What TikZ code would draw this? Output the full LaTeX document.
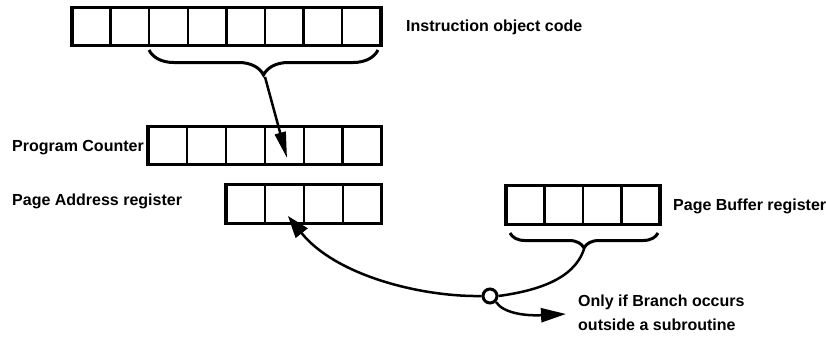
\documentclass[tikz,border=0pt]{standalone}
\usepackage{fontspec}
\setmainfont{Liberation Sans}
\usetikzlibrary{arrows.meta,decorations.pathreplacing,calc}
\begin{document}
\begin{tikzpicture}[x=1pt,y=-1pt,
  reg/.style={draw,line width=3.4pt,inner sep=0pt,outer sep=0pt,minimum height=38.5pt},
  divider/.style={line width=2.3pt},
  lbl/.style={font=\fontsize{16}{18}\selectfont\bfseries,anchor=base west,inner sep=0pt},
  brc/.style={decorate,decoration={brace,amplitude=#1},line width=3pt},
  conn/.style={line width=2.5pt},
  junction/.style={circle,draw,line width=3pt,minimum size=14pt,inner sep=0pt,fill=white}
]
\useasboundingbox (0,0) rectangle (826,337);

% registers
\node[reg,minimum width=308.8pt] (top) at (226.4,26.5) {};
\foreach \i in {1,...,7}
  \draw[divider] ($(top.north west)!\i/8!(top.north east)$) -- ($(top.south west)!\i/8!(top.south east)$);

\node[reg,minimum width=233.4pt] (pc) at (264.8,145.5) {};
\foreach \i in {1,...,5}
  \draw[divider] ($(pc.north west)!\i/6!(pc.north east)$) -- ($(pc.south west)!\i/6!(pc.south east)$);

\node[reg,minimum width=155.6pt] (pa) at (303.8,204) {};
\foreach \i in {1,...,3}
  \draw[divider] ($(pa.north west)!\i/4!(pa.north east)$) -- ($(pa.south west)!\i/4!(pa.south east)$);

\node[reg,minimum width=154pt] (pb) at (583,205) {};
\foreach \i in {1,...,3}
  \draw[divider] ($(pb.north west)!\i/4!(pb.north east)$) -- ($(pb.south west)!\i/4!(pb.south east)$);

% labels
\node[lbl] (ltop) at (406,32) {Instruction object code};
\node[lbl] (lpc) at (12,151) {Program Counter};
\node[lbl] (lpa) at (12,205) {Page Address register};
\node[lbl] (lpb) at (673,210) {Page Buffer register};
\node[lbl] (lonly1) at (578,306) {Only if Branch occurs};
\node[lbl] (lonly2) at (578,330) {outside a subroutine};

% braces
\coordinate (topbrL) at (149,50);
\coordinate (topbrR) at (378,50);
\draw[brc=25pt] (topbrR) -- (topbrL);
\coordinate (toptip) at (265,77);

\coordinate (pbbrL) at (510,233);
\coordinate (pbbrR) at (658,233);
\draw[brc=15pt] (pbbrR) -- (pbbrL);
\coordinate (pbtip) at (584,249);

% junction
\node[junction] (junc) at (490,296) {};

% connectors
\coordinate (pctip) at (287,158);
\draw[conn,-{Triangle[length=26pt,width=11pt]}] (toptip) -- (pctip);

\coordinate (patip) at (288,216);
\draw[conn] (pbtip) .. controls (574,280) and (535,291) .. (junc.east);
\draw[conn,-{Triangle[length=22pt,width=15pt]}] (junc.west) .. controls (420,297) and (335,275) .. (patip);

\coordinate (lowtip) at (566,314);
\draw[conn,-{Triangle[length=25pt,width=14pt]}] (junc.south east) .. controls (503,313) and (525,316) .. (lowtip);
\end{tikzpicture}
\end{document}
